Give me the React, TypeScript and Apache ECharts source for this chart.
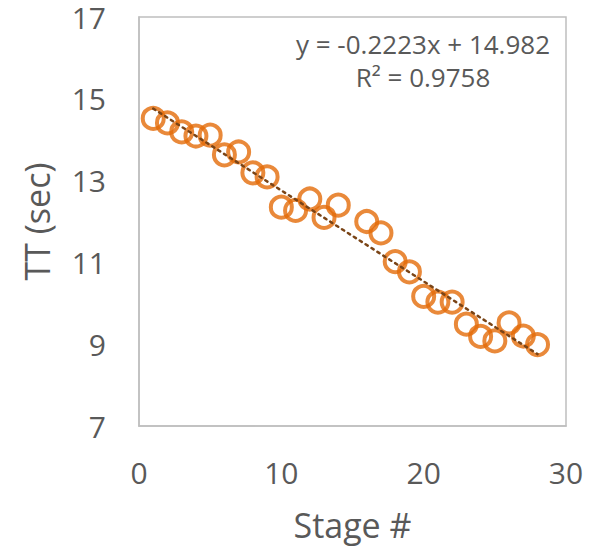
import React, { useEffect, useRef } from "react";
import * as echarts from "echarts";

const stages = [1, 2, 3, 4, 5, 6, 7, 8, 9, 10, 11, 12, 13, 14, 16, 17, 18, 19, 20, 21, 22, 23, 24, 25, 26, 27, 28];
const ttSec = [14.52, 14.41, 14.19, 14.09, 14.11, 13.63, 13.7, 13.19, 13.09, 12.35, 12.27, 12.55, 12.1, 12.4, 12.0, 11.72, 11.02, 10.77, 10.17, 10.03, 10.03, 9.49, 9.19, 9.08, 9.52, 9.2, 8.99];
const trendSlope = -0.2223;
const trendIntercept = 14.982;
const trendRange = [1, 28];
const equationText = "y = -0.2223x + 14.982";
const r2Text = "R² = 0.9758";
const xTicks = { min: 0, max: 30, interval: 10 };
const yTicks = { min: 7, max: 17, step: 2 };

export default function App() {
  const ref = useRef<HTMLDivElement>(null);
  useEffect(() => {
    if (!ref.current) return;
    const chart = echarts.init(ref.current, null, { renderer: "svg" });
    const font = "'Open Sans', 'Liberation Sans', sans-serif";
    const textColor = "#595959";
    const points = stages.map((s, i) => [s, ttSec[i]]);
    const trend = trendRange.map((x) => [x, trendSlope * x + trendIntercept]);
    chart.setOption({
      animation: false,
      backgroundColor: "#ffffff",
      grid: {
        left: 139,
        right: 33,
        top: 17,
        bottom: 123,
        show: true,
        borderColor: "#bfbfbf",
        borderWidth: 1.5,
        backgroundColor: "transparent",
      },
      xAxis: {
        type: "value",
        min: xTicks.min,
        max: xTicks.max,
        interval: xTicks.interval,
        name: "Stage #",
        nameLocation: "middle",
        nameGap: 82,
        nameTextStyle: { fontFamily: font, fontSize: 34, color: textColor },
        axisLine: { show: true, lineStyle: { color: "#bfbfbf", width: 1.5 } },
        axisTick: { show: false },
        splitLine: { show: false },
        axisLabel: { fontFamily: font, fontSize: 30, lineHeight: 30, color: textColor, margin: 31 },
      },
      yAxis: {
        type: "value",
        min: yTicks.min,
        max: yTicks.max,
        interval: 1,
        name: "TT (sec)",
        nameLocation: "middle",
        nameGap: 85,
        nameTextStyle: { fontFamily: font, fontSize: 34, color: textColor },
        axisLine: { show: true, lineStyle: { color: "#bfbfbf", width: 1.5 } },
        axisTick: { show: false },
        splitLine: { show: false },
        axisLabel: {
          fontFamily: font,
          fontSize: 30,
          lineHeight: 30,
          color: textColor,
          margin: 33,
          formatter: (v: number) => ((v - yTicks.min) % yTicks.step === 0 ? String(v) : ""),
        },
      },
      series: [
        {
          type: "scatter",
          data: points,
          symbol: "circle",
          symbolSize: 21,
          itemStyle: { color: "transparent", borderColor: "#E36C09", borderWidth: 4 },
          z: 2,
        },
        {
          type: "line",
          data: trend,
          symbol: "none",
          lineStyle: { color: "#7a4416", width: 2.5, type: [2.5, 4.5], cap: "round" },
          z: 3,
        },
      ],
      graphic: [
        {
          type: "text",
          x: 423,
          y: 44,
          style: {
            text: equationText,
            fontFamily: font,
            fontSize: 26,
            fill: textColor,
            textAlign: "center",
            textVerticalAlign: "middle",
          },
        },
        {
          type: "text",
          x: 423,
          y: 77,
          style: {
            text: r2Text,
            fontFamily: font,
            fontSize: 26,
            fill: textColor,
            textAlign: "center",
            textVerticalAlign: "middle",
          },
        },
      ],
    });
    return () => chart.dispose();
  }, []);
  return <div ref={ref} style={{ width: 599, height: 549, position: "absolute", left: 0, top: 0 }} />;
}
